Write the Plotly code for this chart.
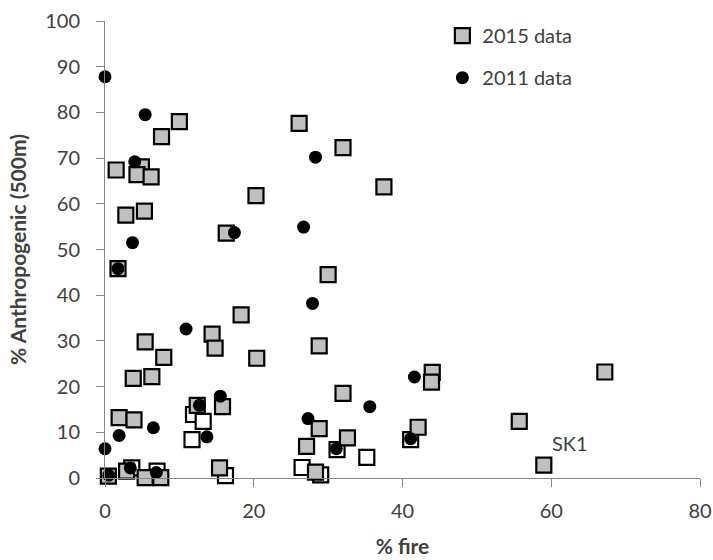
import plotly.graph_objects as go

# 2015 data (grey squares)
x2015 = [10.0, 7.6, 1.5, 4.9, 4.3, 6.2, 20.3, 2.8, 5.3, 16.3, 1.75, 18.3, 14.4, 5.4, 14.8,
         7.9, 20.4, 3.8, 6.3, 15.8, 12.4, 1.9, 3.9, 0.45, 2.9, 5.4, 7.5, 15.4, 26.1, 32.0,
         37.5, 30.0, 28.8, 44.0, 43.9, 32.0, 28.8, 27.1, 32.6, 28.3, 42.1, 67.2, 55.7, 59.0]
y2015 = [78.0, 74.7, 67.4, 68.1, 66.4, 65.9, 61.8, 57.5, 58.4, 53.6, 45.8, 35.7, 31.5, 29.8, 28.4,
         26.4, 26.2, 21.8, 22.2, 15.6, 15.9, 13.2, 12.7, 0.4, 1.5, 0.1, 0.1, 2.2, 77.6, 72.3,
         63.7, 44.5, 28.9, 23.1, 21.0, 18.5, 10.8, 6.9, 8.8, 1.3, 11.1, 23.2, 12.4, 2.8]

# 2011 data (black circles)
x2011 = [0.0, 5.4, 4.0, 3.7, 17.4, 1.75, 10.9, 15.5, 12.7, 13.7, 6.5, 1.9, 0.0, 0.5, 3.4,
         6.9, 26.7, 28.3, 27.9, 41.6, 35.6, 27.3, 31.1, 41.1]
y2011 = [87.8, 79.5, 69.2, 51.5, 53.7, 45.8, 32.6, 17.9, 15.9, 9.0, 11.0, 9.3, 6.4, 0.6, 2.2,
         1.2, 54.9, 70.2, 38.2, 22.1, 15.6, 13.0, 6.4, 8.6]

# unlabelled series (white squares)
xWhite = [11.9, 13.2, 11.7, 3.6, 7.0, 16.2, 26.5, 29.0, 31.2, 35.2, 41.1]
yWhite = [13.9, 12.4, 8.4, 2.2, 1.5, 0.5, 2.3, 0.7, 6.2, 4.5, 8.4]

# labelled point
label_text = "SK1"
label_x = 59.0
label_y = 2.8

x_ticks = [0, 20, 40, 60, 80]
y_ticks = [0, 10, 20, 30, 40, 50, 60, 70, 80, 90, 100]

FONT = "Lato"
TXT = "#404040"
AX = "#868686"
FS = 20

fig = go.Figure()
fig.add_trace(go.Scatter(
    x=xWhite, y=yWhite, mode="markers", showlegend=False, cliponaxis=False,
    marker=dict(symbol="square", size=15, color="white", line=dict(color="black", width=2.2)),
))
fig.add_trace(go.Scatter(
    x=x2015, y=y2015, mode="markers", name="2015 data", legend="legend", cliponaxis=False,
    marker=dict(symbol="square", size=15, color="#c0c0c0", line=dict(color="black", width=2.2)),
))
fig.add_trace(go.Scatter(
    x=x2011, y=y2011, mode="markers", name="2011 data", legend="legend2", cliponaxis=False,
    marker=dict(symbol="circle", size=13, color="black", line=dict(width=0)),
))

fig.add_annotation(x=label_x, y=label_y, text=label_text, showarrow=False,
                   xshift=26, yshift=22, font=dict(family=FONT, size=FS, color=TXT))

fig.update_layout(
    width=713, height=560,
    margin=dict(l=105, r=13, t=21, b=82, autoexpand=False),
    paper_bgcolor="white", plot_bgcolor="white",
    font=dict(family=FONT, size=FS, color=TXT),
    legend=dict(x=0.567, y=0.968, xanchor="left", yanchor="middle", xref="paper", yref="paper",
                font=dict(family=FONT, size=FS, color=TXT), bgcolor="rgba(0,0,0,0)"),
    legend2=dict(x=0.567, y=0.876, xanchor="left", yanchor="middle", xref="paper", yref="paper",
                 font=dict(family=FONT, size=FS, color=TXT), bgcolor="rgba(0,0,0,0)"),
    xaxis=dict(range=[0, 80], tickvals=x_ticks, showline=True, linecolor=AX,
               linewidth=1, ticks="outside", ticklen=8, tickcolor=AX, showgrid=False,
               zeroline=False, ticklabelstandoff=7, tickfont=dict(family=FONT, size=FS, color=TXT),
               title=dict(text="<b>% fire</b>", font=dict(family=FONT, size=21, color=TXT), standoff=18)),
    yaxis=dict(range=[0, 100], tickvals=y_ticks, showline=True, linecolor=AX,
               linewidth=1, ticks="outside", ticklen=8, tickcolor=AX, showgrid=False,
               zeroline=False, ticklabelstandoff=12, tickfont=dict(family=FONT, size=FS, color=TXT),
               title=dict(text="<b>% Anthropogenic (500m)</b>", font=dict(family=FONT, size=21, color=TXT), standoff=12)),
)

fig.write_html("out.html")
